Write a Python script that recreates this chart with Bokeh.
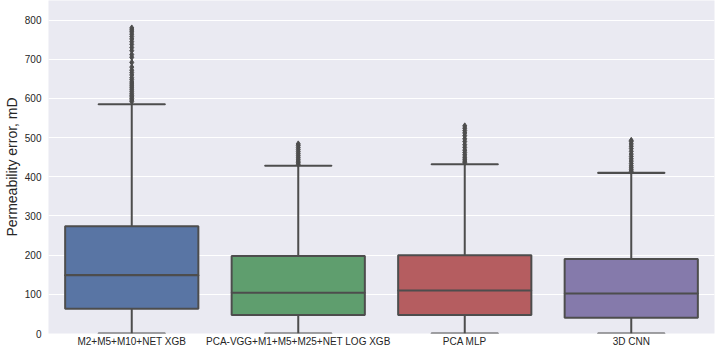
from bokeh.plotting import figure
from bokeh.models import ColumnDataSource, FactorRange, Range1d, FixedTicker
from bokeh.embed import file_html
from bokeh.resources import INLINE

categories = ["M2+M5+M10+NET XGB", "PCA-VGG+M1+M5+M25+NET LOG XGB", "PCA MLP", "3D CNN"]
colors = ["#5975a4", "#5f9e6e", "#b55d60", "#857aab"]
q1 = [63, 47, 47, 40]
median = [149, 104, 110, 102]
q3 = [274, 198, 200, 190]
whisker_low = [0, 0, 0, 0]
whisker_high = [585, 428, 432, 410]
outliers = [
    [592, 596, 600, 604, 608, 612, 617, 622, 627, 632, 637, 642, 648, 653, 660, 666,
     672, 680, 692, 705, 712, 722, 730, 738, 745, 752, 758, 764, 770, 775, 780],
    [432, 436, 440, 445, 450, 455, 460, 465, 470, 475, 480, 484],
    [436, 440, 445, 450, 456, 462, 468, 475, 482, 490, 497, 505, 512, 518, 524, 530],
    [414, 418, 423, 428, 434, 440, 446, 452, 458, 465, 472, 478, 484, 490, 493],
]
y_ticks = [0, 100, 200, 300, 400, 500, 600, 700, 800]

LINE = "#4d4d4d"
TXT = "#262626"

p = figure(x_range=FactorRange(*categories), y_range=Range1d(0, 850),
           width=717, height=349, output_backend="svg", toolbar_location=None,
           min_border_left=0, min_border_right=3, min_border_top=0, min_border_bottom=0)
p.background_fill_color = "#eaeaf2"
p.border_fill_color = "white"
p.outline_line_color = None

box_src = ColumnDataSource(dict(cat=categories, q1=q1, q3=q3, med=median,
                                lo=whisker_low, hi=whisker_high, color=colors))
# whiskers
p.segment(x0="cat", y0="lo", x1="cat", y1="q1", source=box_src, line_color=LINE, line_width=2)
p.segment(x0="cat", y0="q3", x1="cat", y1="hi", source=box_src, line_color=LINE, line_width=2)
# boxes
p.vbar(x="cat", top="q3", bottom="q1", width=0.8, source=box_src, fill_color="color",
       line_color=LINE, line_width=2)
# median
p.rect(x="cat", y="med", width=0.8, height=0.01, height_units="screen", source=box_src,
       fill_alpha=0, line_color=LINE, line_width=2)
# caps
p.rect(x="cat", y="hi", width=0.4, height=0.01, height_units="screen", source=box_src,
       fill_alpha=0, line_color=LINE, line_width=2)
p.rect(x="cat", y="lo", width=0.4, height=0.01, height_units="screen", source=box_src,
       fill_alpha=0, line_color=LINE, line_width=2)

ox, oy = [], []
for c, vals in zip(categories, outliers):
    for v in vals:
        ox.append(c)
        oy.append(v)
p.scatter(x=ox, y=oy, marker="diamond", size=6, fill_color=LINE, line_color=LINE)

p.yaxis.ticker = FixedTicker(ticks=y_ticks)
p.ygrid.ticker = FixedTicker(ticks=y_ticks)
p.ygrid.grid_line_color = "white"
p.ygrid.grid_line_width = 1
p.xgrid.grid_line_color = None
for ax in (p.xaxis, p.yaxis):
    ax.axis_line_color = None
    ax.major_tick_line_color = None
    ax.minor_tick_line_color = None
    ax.major_tick_out = 0
    ax.major_tick_in = 0
    ax.minor_tick_out = 0
    ax.minor_tick_in = 0
    ax.major_label_text_font = "Liberation Sans"
    ax.major_label_text_font_size = "10px"
    ax.major_label_text_color = TXT
p.xaxis.major_label_standoff = 2
p.yaxis.major_label_standoff = 7
p.yaxis.axis_label = "Permeability error, mD"
p.yaxis.axis_label_text_font = "Liberation Sans"
p.yaxis.axis_label_text_font_style = "normal"
p.yaxis.axis_label_text_font_size = "14px"
p.yaxis.axis_label_text_color = TXT
p.yaxis.axis_label_standoff = 2

open("out.html", "w").write(file_html(p, INLINE))
